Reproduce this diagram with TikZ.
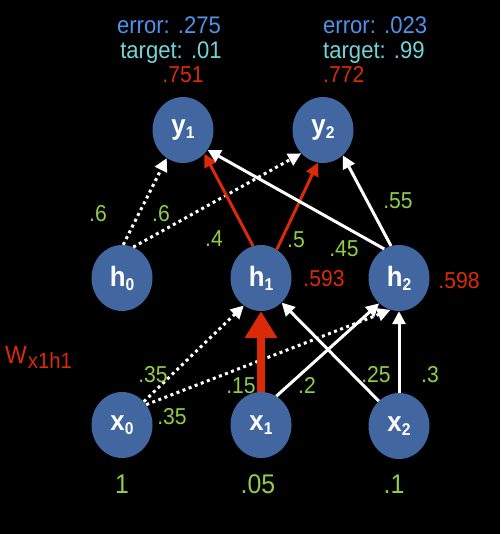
\documentclass[tikz,border=0pt]{standalone}
\usepackage{fontspec}
\setmainfont{Liberation Sans}[FakeStretch=0.92]
\usetikzlibrary{arrows.meta,shapes.geometric}

\definecolor{unitblue}{RGB}{66,103,160}
\definecolor{errblue}{RGB}{80,145,235}
\definecolor{tgtcyan}{RGB}{115,212,216}
\definecolor{actred}{RGB}{218,42,8}
\definecolor{wgreen}{RGB}{143,206,70}

% unit label: letter with a lowered index
\newcommand\unitlbl[2]{#1\raisebox{-4pt}{\fontsize{17}{17}\selectfont #2}}

\begin{document}
\begin{tikzpicture}[x=1pt,y=-1pt,
  neuron/.style={ellipse, fill=unitblue, minimum width=61pt, minimum height=66pt,
    inner sep=0pt, text=white, font=\bfseries\fontsize{28}{28}\selectfont},
  wline/.style={draw=white, line width=3pt, -{Triangle[length=13pt,width=13pt]}},
  dline/.style={wline, dash pattern=on 3pt off 3.5pt},
  rline/.style={draw=actred, line width=3pt, -{Triangle[length=13pt,width=13pt]}},
  bigred/.style={draw=actred, line width=8pt, -{Triangle[length=27pt,width=31pt]}},
  wt/.style={text=wgreen, font=\fontsize{23}{23}\selectfont, anchor=base, inner sep=0pt},
  act/.style={text=actred, font=\fontsize{23}{23}\selectfont, anchor=base, inner sep=0pt},
  err/.style={text=errblue, font=\fontsize{24}{24}\selectfont, anchor=base, inner sep=0pt},
  tgt/.style={text=tgtcyan, font=\fontsize{24}{24}\selectfont, anchor=base, inner sep=0pt},
  inval/.style={text=wgreen, font=\fontsize{27}{27}\selectfont, anchor=base, inner sep=0pt}]

\fill[black] (0,0) rectangle (500,534);
\useasboundingbox (0,0) rectangle (500,534);

% units
\node[neuron] (y1) at (183,130) {\unitlbl{y}{1}};
\node[neuron] (y2) at (323,130) {\unitlbl{y}{2}};
\node[neuron] (h0) at (122,278) {\unitlbl{h}{0}};
\node[neuron] (h1) at (261,278) {\unitlbl{h}{1}};
\node[neuron] (h2) at (399,278) {\unitlbl{h}{2}};
\node[neuron] (x0) at (122,425) {\unitlbl{x}{0}};
\node[neuron] (x1) at (261,425) {\unitlbl{x}{1}};
\node[neuron] (x2) at (399,426) {\unitlbl{x}{2}};

% hidden -> output
\draw[dline] (h0.88) -- (y1.240);
\draw[dline] (h0.70) -- (y2.227);
\draw[rline] (h1.104) -- (y1.312);
\draw[rline] (h1.61) -- (y2.261);
\draw[wline] (h2.117) -- (y1.321);
\draw[wline] (h2.104) -- (y2.308);

% input -> hidden
\draw[dline] (x0.47) -- (h1.238);
\draw[dline] (x0.40) -- (h2.255);
\draw[bigred] (x1.90) -- (h1.270);
\draw[wline] (x1.62) -- (h2.232);
\draw[wline] (x2.129) -- (h1.310);
\draw[wline] (x2.90) -- (h2.270);

% output errors, targets and activations
\node[err] (e1) at (169,34) {error: .275};
\node[tgt] (t1) at (171,59) {target: .01};
\node[act] (o1) at (183,83) {.751};
\node[err, anchor=base west] (e2) at (323,34) {error: .023};
\node[tgt, anchor=base west] (t2) at (323,59) {target: .99};
\node[act, anchor=base west] (o2) at (323,83) {.772};

% hidden activations
\node[act] (a1) at (324,286) {.593};
\node[act] (a2) at (459,288) {.598};

% weights
\node[wt] (w1) at (98,222) {.6};
\node[wt] (w2) at (161,222) {.6};
\node[wt] (w3) at (214,246) {.4};
\node[wt] (w4) at (296,247) {.5};
\node[wt] (w5) at (398,209) {.55};
\node[wt] (w6) at (344,256) {.45};
\node[wt] (w7) at (153,382) {.35};
\node[wt] (w8) at (172,424) {.35};
\node[wt] (w9) at (241,393) {.15};
\node[wt] (w10) at (307,393) {.2};
\node[wt] (w11) at (376,382) {.25};
\node[wt] (w12) at (430,382) {.3};

% highlighted weight name
\node[text=actred, anchor=base west, inner sep=0pt, font=\fontsize{25}{25}\selectfont]
  (wname) at (5,363)
  {W\kern1pt\raisebox{-5pt}{\fontsize{22}{22}\selectfont x1h1}};

% input values
\node[inval] (v0) at (122,493) {1};
\node[inval] (v1) at (258,493) {.05};
\node[inval] (v2) at (394,493) {.1};
\end{tikzpicture}
\end{document}
